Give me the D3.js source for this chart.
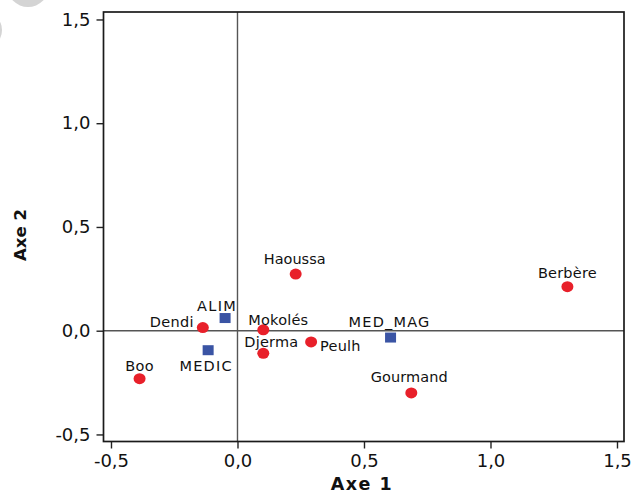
<!DOCTYPE html>
<html>
<head>
<meta charset="utf-8">
<script src="https://cdn.jsdelivr.net/npm/d3@7"></script>
<style>
  html, body { margin: 0; padding: 0; background: #fff; }
  svg { display: block; }
</style>
</head>
<body>
<svg id="chart" width="639" height="495"></svg>
<script>
// ---- data ----
const ethnicNames = ["Haoussa", "Berbère", "Dendi", "Mokolés", "Djerma", "Peulh", "Boo", "Gourmand"];
const ethnicAxe1  = [0.230, 1.304, -0.137, 0.102, 0.102, 0.291, -0.387, 0.687];
const ethnicAxe2  = [0.273, 0.212, 0.015, 0.004, -0.109, -0.054, -0.231, -0.300];

const useNames = ["ALIM", "MEDIC", "MED_MAG"];
const useAxe1  = [-0.049, -0.116, 0.605];
const useAxe2  = [0.061, -0.094, -0.033];

const xTicks = [-0.5, 0, 0.5, 1.0, 1.5];
const yTicks = [-0.5, 0, 0.5, 1.0, 1.5];
const xTitle = "Axe 1";
const yTitle = "Axe 2";

// ---- layout (label placement relative to marker, in px) ----
const labelLayout = {
  "Haoussa":  {anchor: "middle", dx: -1,   dy: -10,   ls: 0},
  "Berbère":  {anchor: "middle", dx: 0,    dy: -9,    ls: 0.2},
  "Dendi":    {anchor: "end",    dx: -9,   dy: -1,    ls: 0.3},
  "Mokolés":  {anchor: "start",  dx: -15,  dy: -5,    ls: 0.2},
  "Djerma":   {anchor: "start",  dx: -19,  dy: -6,    ls: 0.2},
  "Peulh":    {anchor: "start",  dx: 9,    dy: 9.5,   ls: 0.2},
  "Boo":      {anchor: "middle", dx: 0,    dy: -8,    ls: 0.3},
  "Gourmand": {anchor: "middle", dx: -2,   dy: -10.5, ls: 0.1},
  "ALIM":     {anchor: "middle", dx: -8,   dy: -7.5,  ls: 1.3},
  "MEDIC":    {anchor: "middle", dx: -2,   dy: 20.5,  ls: 1.2},
  "MED_MAG":  {anchor: "middle", dx: -1,   dy: -11,   ls: 1.2}
};

const svg = d3.select("#chart");
const pLeft = 103.5, pRight = 624, pTop = 12, pBottom = 441.5;

const x = d3.scaleLinear().domain([-0.5296, 1.5277]).range([pLeft, pRight]);
const y = d3.scaleLinear().domain([-0.534, 1.536]).range([pBottom, pTop]);

const fmt = v => d3.format(".1f")(v).replace(".", ",").replace("\u2212", "-");

// decorative grey blobs in the top-left corner of the reference
svg.append("circle").attr("cx", 28).attr("cy", -14).attr("r", 21).attr("fill", "#d4d4d4");
svg.append("circle").attr("cx", -16).attr("cy", 30).attr("r", 18).attr("fill", "#d4d4d4");

// zero lines
svg.append("line")
  .attr("x1", pLeft).attr("x2", pRight)
  .attr("y1", y(0)).attr("y2", y(0))
  .attr("stroke", "#555").attr("stroke-width", 1.4);
svg.append("line")
  .attr("x1", x(0)).attr("x2", x(0))
  .attr("y1", pTop).attr("y2", pBottom)
  .attr("stroke", "#555").attr("stroke-width", 1.4);

// axes
const xAxis = svg.append("g")
  .attr("transform", `translate(0,${pBottom})`)
  .call(d3.axisBottom(x).tickValues(xTicks).tickFormat(fmt).tickSize(7).tickPadding(6));
const yAxis = svg.append("g")
  .attr("transform", `translate(${pLeft},0)`)
  .call(d3.axisLeft(y).tickValues(yTicks).tickFormat(fmt).tickSize(7).tickPadding(6));

[xAxis, yAxis].forEach(g => {
  g.select(".domain").remove();
  g.selectAll(".tick line").attr("stroke", "#222").attr("stroke-width", 1.4);
  g.selectAll(".tick text")
    .attr("fill", "#111")
    .style("font-family", "'DejaVu Sans', Verdana, sans-serif")
    .style("font-size", "18px");
});

// frame
svg.append("rect")
  .attr("x", pLeft).attr("y", pTop)
  .attr("width", pRight - pLeft).attr("height", pBottom - pTop)
  .attr("fill", "none").attr("stroke", "#1a1a1a").attr("stroke-width", 1.7);

// axis titles
svg.append("text")
  .attr("x", 362).attr("y", 490)
  .attr("text-anchor", "middle")
  .style("font-family", "'DejaVu Sans', Verdana, sans-serif")
  .style("font-weight", "bold").style("font-size", "17.5px")
  .style("letter-spacing", "1.5px")
  .attr("fill", "#111")
  .text(xTitle);
svg.append("text")
  .attr("transform", `translate(26,235) rotate(-90)`)
  .attr("text-anchor", "middle")
  .style("font-family", "'DejaVu Sans', Verdana, sans-serif")
  .style("font-weight", "bold").style("font-size", "16.5px")
  .attr("fill", "#111")
  .text(yTitle);

// data
const ethnic = ethnicNames.map((n, i) => ({name: n, a1: ethnicAxe1[i], a2: ethnicAxe2[i]}));
const uses = useNames.map((n, i) => ({name: n, a1: useAxe1[i], a2: useAxe2[i]}));

svg.append("g").selectAll("ellipse").data(ethnic).join("ellipse")
  .attr("cx", d => x(d.a1)).attr("cy", d => y(d.a2))
  .attr("rx", 6).attr("ry", 5.5)
  .attr("fill", "#e8202a");

svg.append("g").selectAll("rect").data(uses).join("rect")
  .attr("x", d => x(d.a1) - 5.5).attr("y", d => y(d.a2) - 5)
  .attr("width", 11).attr("height", 10)
  .attr("fill", "#3a54a4");

const labelData = ethnic.concat(uses);
svg.append("g").selectAll("text").data(labelData).join("text")
  .attr("x", d => x(d.a1) + labelLayout[d.name].dx)
  .attr("y", d => y(d.a2) + labelLayout[d.name].dy)
  .attr("text-anchor", d => labelLayout[d.name].anchor)
  .style("font-family", "'DejaVu Sans', Verdana, sans-serif")
  .style("font-size", "14.5px")
  .style("letter-spacing", d => labelLayout[d.name].ls + "px")
  .attr("fill", "#111")
  .text(d => d.name);
</script>
</body>
</html>
